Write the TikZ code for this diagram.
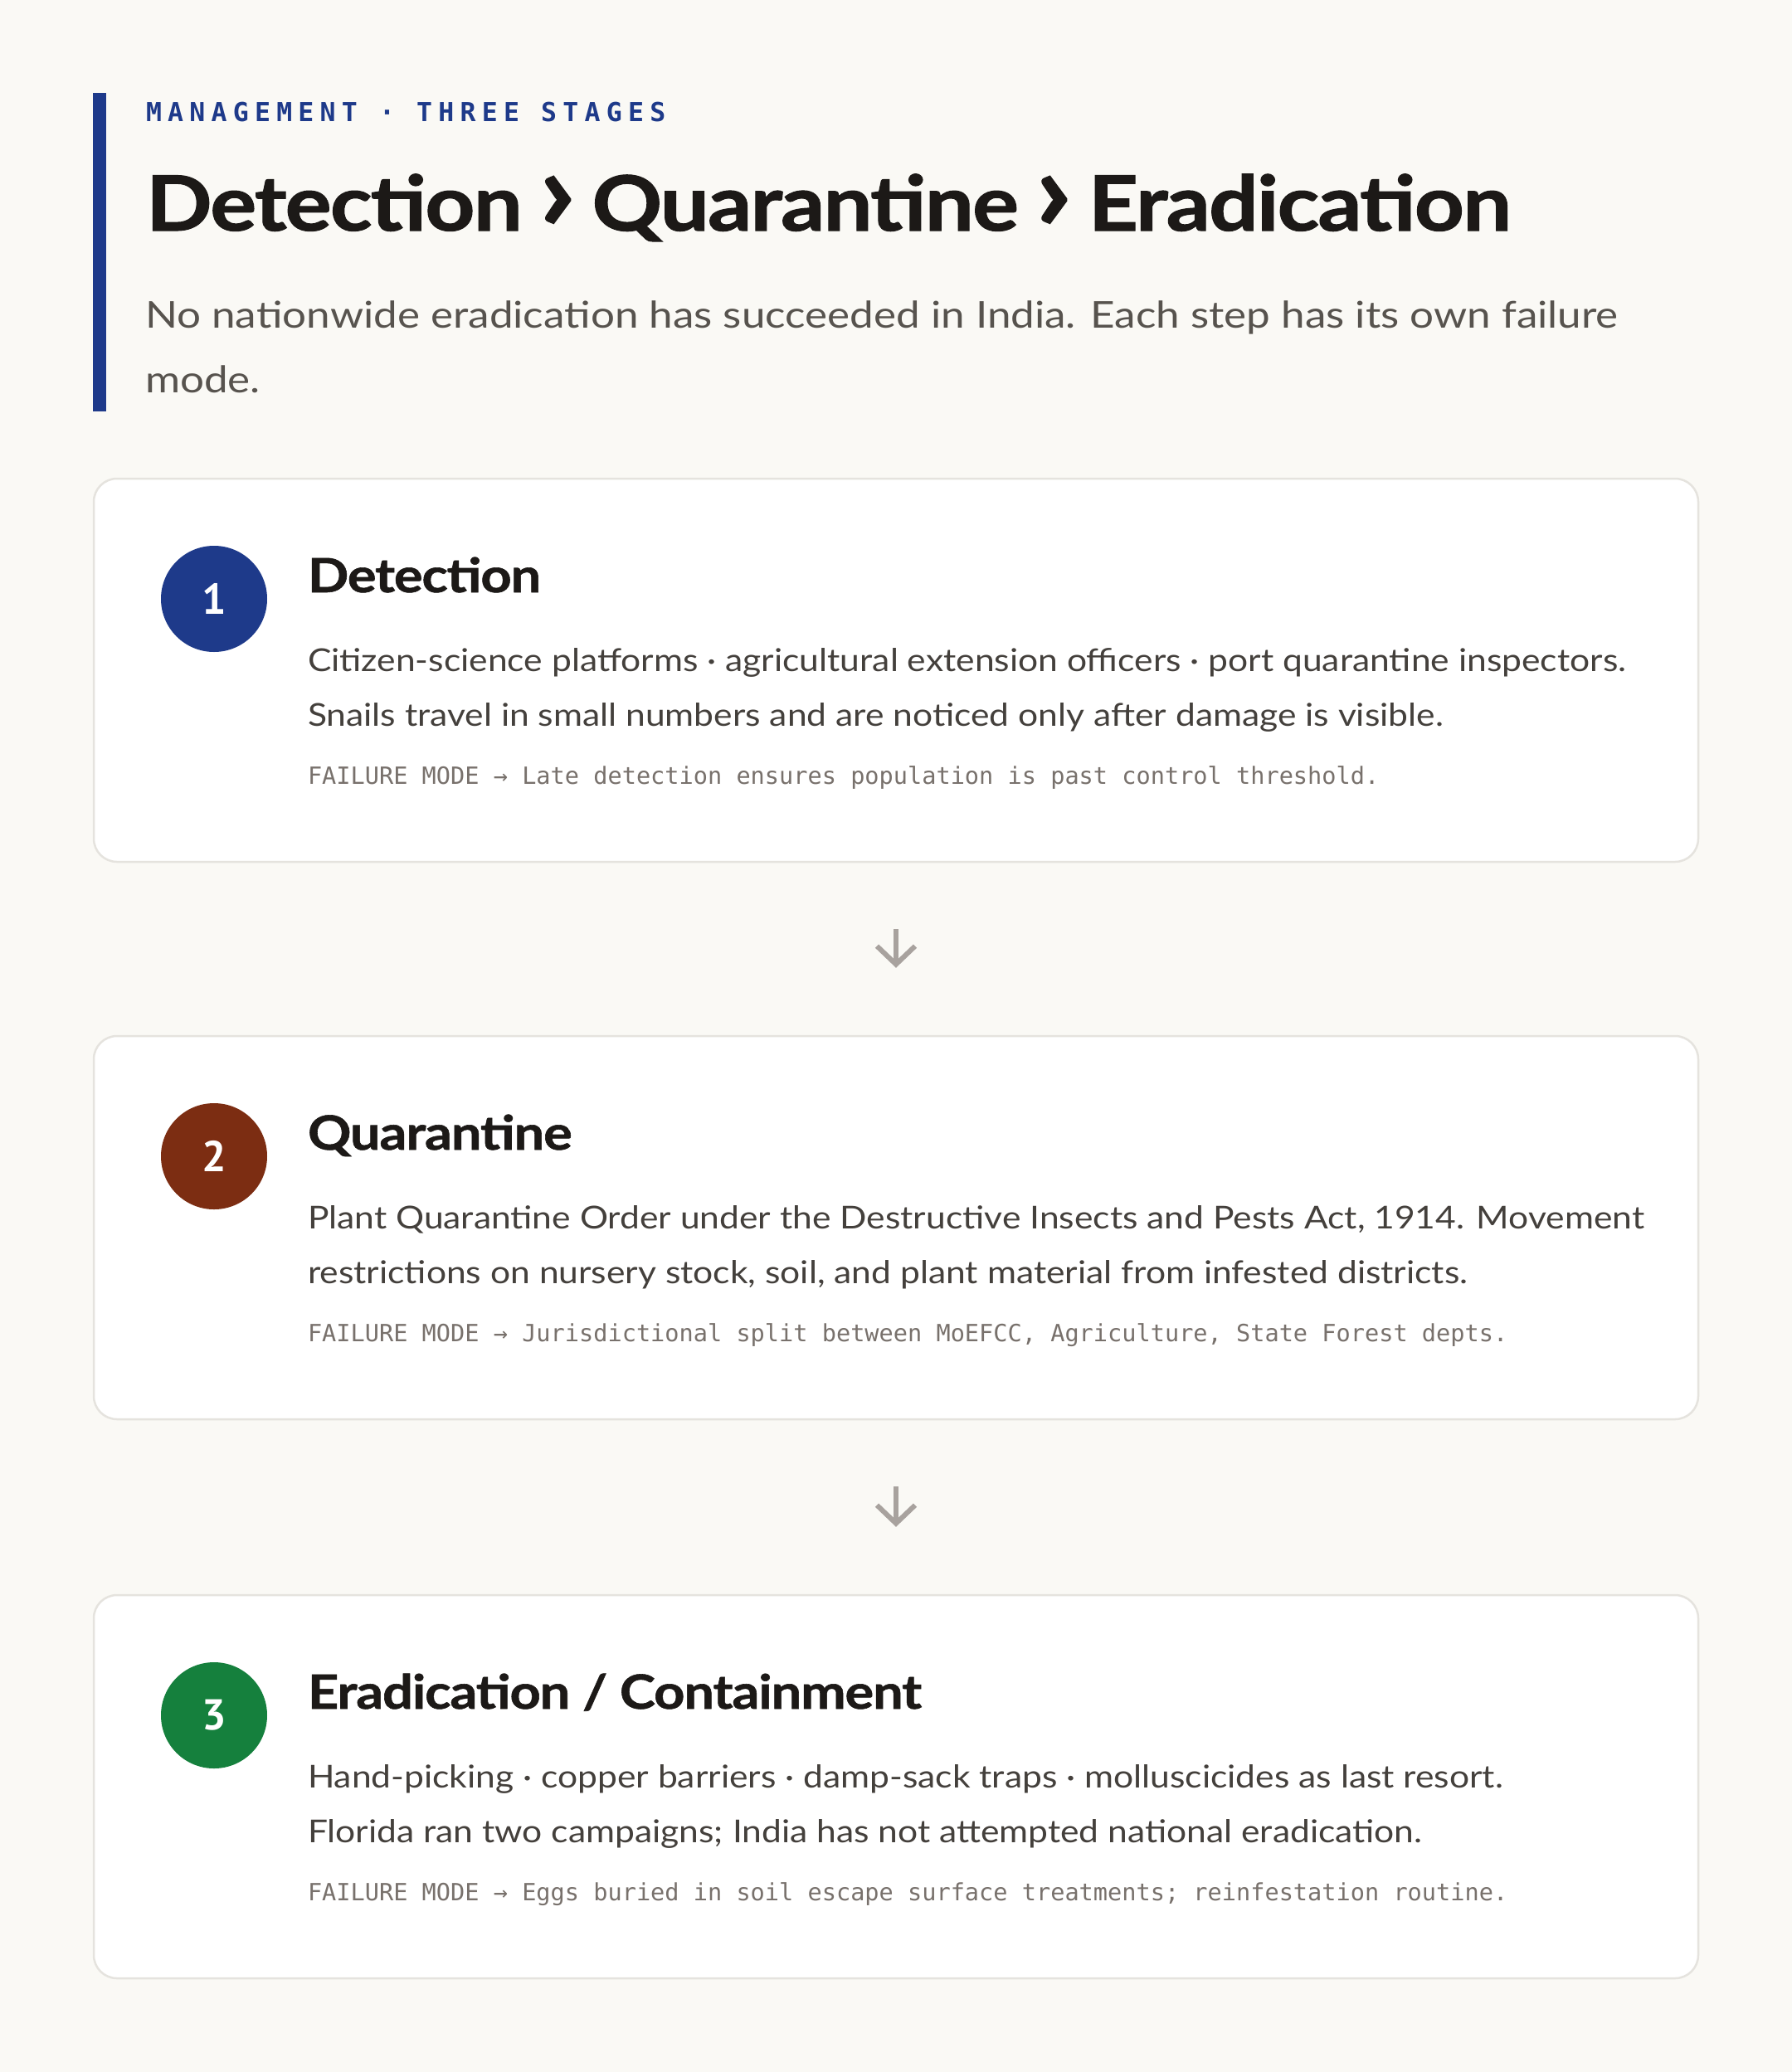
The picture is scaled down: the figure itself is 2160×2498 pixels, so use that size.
\documentclass[tikz,border=0pt]{standalone}
\usepackage{fontspec}
\setmainfont{Lato}
\newfontfamily\monofont{DejaVu Sans Mono}
\newfontfamily\numfont{PT Sans}
\newfontfamily\headfont{Lato}[FakeStretch=1.14, BoldFeatures={FakeBold=1.2}]
\newfontfamily\ctitlefont{Lato}[FakeStretch=1.14, BoldFeatures={FakeBold=1}]
\newfontfamily\descfont{Lato}[FakeStretch=1.15]
\newfontfamily\bodyfont{Lato}[FakeStretch=1.12]
\usetikzlibrary{arrows.meta}
\definecolor{bgc}{HTML}{FAF9F5}
\definecolor{cardborder}{HTML}{E5E3DE}
\definecolor{accentblue}{HTML}{1E3A8A}
\definecolor{accentbrown}{HTML}{7C2D12}
\definecolor{accentgreen}{HTML}{15803D}
\definecolor{inkdark}{HTML}{1C1917}
\definecolor{inkbody}{HTML}{44403C}
\definecolor{inkdesc}{HTML}{57534E}
\definecolor{inkmono}{HTML}{78716C}
\definecolor{arrowgray}{HTML}{A8A29E}
\newcommand{\chev}{\hspace{19pt}\scalebox{1.5}{›}\hspace{19pt}}
\tikzset{
  txt/.style={anchor=base west, inner sep=0pt, outer sep=0pt},
  kicker/.style={txt, text=accentblue, font=\monofont\bfseries\fontsize{31.5}{36}\selectfont\addfontfeatures{LetterSpace=23}},
  headline/.style={txt, text=inkdark, font=\headfont\bfseries\fontsize{92}{110}\selectfont\addfontfeatures{LetterSpace=-2}},
  desc/.style={txt, text=inkdesc, font=\descfont\fontsize{44.5}{52}\selectfont},
  card/.style={draw=cardborder, line width=2.5pt, fill=white, rounded corners=28pt,
    minimum width=1934pt, minimum height=462pt, inner sep=0pt},
  badge/.style={circle, minimum size=128pt, inner sep=0pt, text=white,
    font=\numfont\bfseries\fontsize{52}{60}\selectfont},
  cardtitle/.style={txt, text=inkdark, font=\ctitlefont\bfseries\fontsize{57}{66}\selectfont\addfontfeatures{LetterSpace=-2}},
  body/.style={txt, text=inkbody, font=\bodyfont\fontsize{38}{46}\selectfont},
  fail/.style={txt, text=inkmono, font=\monofont\fontsize{28.6}{34}\selectfont},
  flow/.style={draw=arrowgray, line width=6pt, shorten <=80pt, shorten >=81pt,
    -{Straight Barb[length=22pt, width=46pt, line width=6pt]}},
}
\begin{document}
\begin{tikzpicture}[x=1pt, y=-1pt]
\useasboundingbox (0,0) rectangle (2160,2498);
\fill[bgc] (0,0) rectangle (2160,2498);
% header
\fill[accentblue] (112,112) rectangle (127.5,496);
\node[kicker] (kick) at (176,146) {MANAGEMENT · THREE STAGES};
\node[headline] (head) at (176,278) {Detection\chev Quarantine\chev Eradication};
\node[desc] (desc1) at (175,395) {No nationwide eradication has succeeded in India. Each step has its own failure};
\node[desc] (desc2) at (175,473) {mode.};
% cards
\node[card] (c1) at (1080,808) {};
\node[card] (c2) at (1080,1480) {};
\node[card] (c3) at (1080,2154) {};
% card 1
\node[badge, fill=accentblue] (b1) at (258,722) {1};
\node[cardtitle] (t1) at (371,714) {Detection};
\node[body] (p1a) at (371,809) {Citizen-science platforms · agricultural extension officers · port quarantine inspectors.};
\node[body] (p1b) at (371,875) {Snails travel in small numbers and are noticed only after damage is visible.};
\node[fail] (f1) at (371,945) {FAILURE MODE → Late detection ensures population is past control threshold.};
% card 2
\node[badge, fill=accentbrown] (b2) at (258,1394) {2};
\node[cardtitle] (t2) at (371,1386) {Quarantine};
\node[body] (p2a) at (371,1481) {Plant Quarantine Order under the Destructive Insects and Pests Act, 1914. Movement};
\node[body] (p2b) at (371,1547) {restrictions on nursery stock, soil, and plant material from infested districts.};
\node[fail] (f2) at (371,1617) {FAILURE MODE → Jurisdictional split between MoEFCC, Agriculture, State Forest depts.};
% card 3
\node[badge, fill=accentgreen] (b3) at (258,2068) {3};
\node[cardtitle] (t3) at (371,2060) {Eradication / Containment};
\node[body] (p3a) at (371,2155) {Hand-picking · copper barriers · damp-sack traps · molluscicides as last resort.};
\node[body] (p3b) at (371,2221) {Florida ran two campaigns; India has not attempted national eradication.};
\node[fail] (f3) at (371,2291) {FAILURE MODE → Eggs buried in soil escape surface treatments; reinfestation routine.};
% connectors
\draw[flow] (c1.south) -- (c2.north);
\draw[flow] (c2.south) -- (c3.north);
\end{tikzpicture}
\end{document}
